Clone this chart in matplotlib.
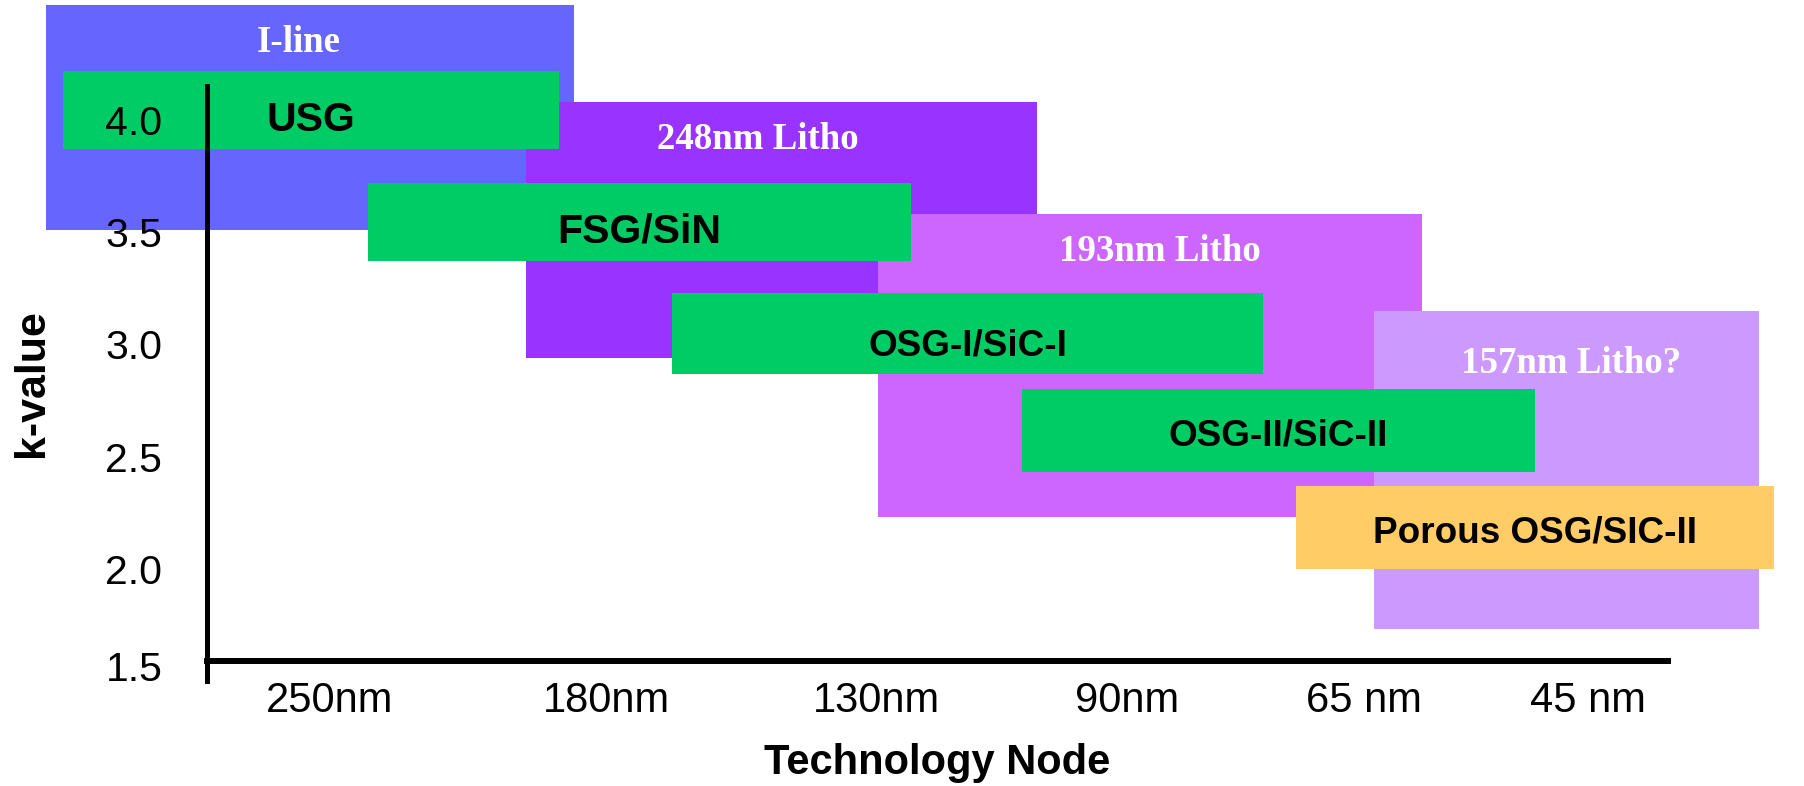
import matplotlib
matplotlib.use("Agg")
import matplotlib.pyplot as plt
import matplotlib.transforms as mtransforms

# lithography generations (background blocks), x in node units, y in k-value
regions = ['I-line', '248nm Litho', '193nm Litho', '157nm Litho?']
region_x0 = [-1.13, 0.78, 2.18, 4.15]
region_x1 = [0.97, 2.81, 4.34, 5.68]
region_klo = [3.51, 2.94, 2.23, 1.73]
region_khi = [4.51, 4.08, 3.58, 3.15]

# dielectric / barrier material sets
materials = ['USG', 'FSG/SiN', 'OSG-I/SiC-I', 'OSG-II/SiC-II', 'Porous OSG/SIC-II']
mat_x0 = [-1.06, 0.15, 1.36, 2.75, 3.84]
mat_x1 = [0.91, 2.31, 3.71, 4.79, 5.74]
mat_klo = [3.87, 3.37, 2.87, 2.43, 2.00]
mat_khi = [4.22, 3.72, 3.23, 2.80, 2.37]

nodes = ['250nm', '180nm', '130nm', '90nm', '65 nm', '45 nm']
k_ticks = [1.5, 2.0, 2.5, 3.0, 3.5, 4.0]

# styling
region_colors = ['#6666FF', '#9933FF', '#CC66FF', '#CC99FF']
region_label_off = [(-8, -27), (-17, -27), (7, -27), (3, -38)]   # points from block top centre
mat_colors = ['#00CC66', '#00CC66', '#00CC66', '#00CC66', '#FFCC66']
mat_fontsize = [29.5, 29.5, 26.6, 26.6, 26.6]
mat_label_dy = [-7, -7, -9.5, -4, -4]
node_pos = [0, 1.10, 2.17, 3.17, 4.11, 5.0]

fig = plt.figure(figsize=(18.04, 7.86), dpi=100)
ax = fig.add_axes([0.1146, 0.1336, 0.81, 0.757])

for i, name in enumerate(regions):
    w = region_x1[i] - region_x0[i]
    h = region_khi[i] - region_klo[i]
    bars = ax.bar(region_x0[i], h, width=w, bottom=region_klo[i], align='edge',
                  color=region_colors[i], linewidth=0, zorder=1 + i)
    for p in bars:
        p.set_clip_on(False)
    ax.annotate(name, xy=(region_x0[i] + w / 2, region_khi[i]),
                xytext=region_label_off[i], textcoords='offset points',
                ha='center', va='center', color='white', fontsize=26.6,
                fontweight='bold', family='Liberation Serif', zorder=1 + i,
                annotation_clip=False)

for i, name in enumerate(materials):
    w = mat_x1[i] - mat_x0[i]
    h = mat_khi[i] - mat_klo[i]
    bars = ax.bar(mat_x0[i], h, width=w, bottom=mat_klo[i], align='edge',
                  color=mat_colors[i], linewidth=0, zorder=10)
    for p in bars:
        p.set_clip_on(False)
    ax.annotate(name, xy=(mat_x0[i] + w / 2, mat_klo[i] + h / 2),
                xytext=(0, mat_label_dy[i]), textcoords='offset points',
                ha='center', va='center', fontsize=mat_fontsize[i],
                fontweight='bold', family='Liberation Sans', zorder=11,
                annotation_clip=False)

ax.set_xlim(-0.49, 5.318)
ax.set_ylim(1.5, 4.151)

for s in ['top', 'right']:
    ax.spines[s].set_visible(False)
ax.spines['bottom'].set_position(('data', 1.587))
ax.spines['left'].set_linewidth(3.6)
ax.spines['bottom'].set_linewidth(4.3)
ax.spines['left'].set_zorder(20)
ax.spines['bottom'].set_zorder(20)
ax.xaxis.set_zorder(20)
ax.yaxis.set_zorder(20)

ax.set_xticks(node_pos)
ax.set_xticklabels(nodes, family='Liberation Sans', fontsize=30)
ax.set_yticks(k_ticks)
ax.set_yticklabels([f"{k:.1f}" for k in k_ticks], family='Liberation Sans', fontsize=29.5)
ax.tick_params(axis='x', length=0, pad=14)
ax.tick_params(axis='y', length=0, pad=32)

# lowest k label sits a little above its gridline, level with the node axis
lbl = ax.get_yticklabels()[0]
lbl.set_transform(lbl.get_transform() +
                  mtransforms.ScaledTranslation(0, 11 / 72, fig.dpi_scale_trans))

ax.set_xlabel('Technology Node', family='Liberation Sans', fontweight='bold', fontsize=30)
ax.set_ylabel('k-value', family='Liberation Sans', fontweight='bold', fontsize=31)
ax.xaxis.set_label_coords(0.5, -0.105)
ax.yaxis.set_label_coords(-0.106, 0.5)

fig.savefig('out.png', dpi=100)
